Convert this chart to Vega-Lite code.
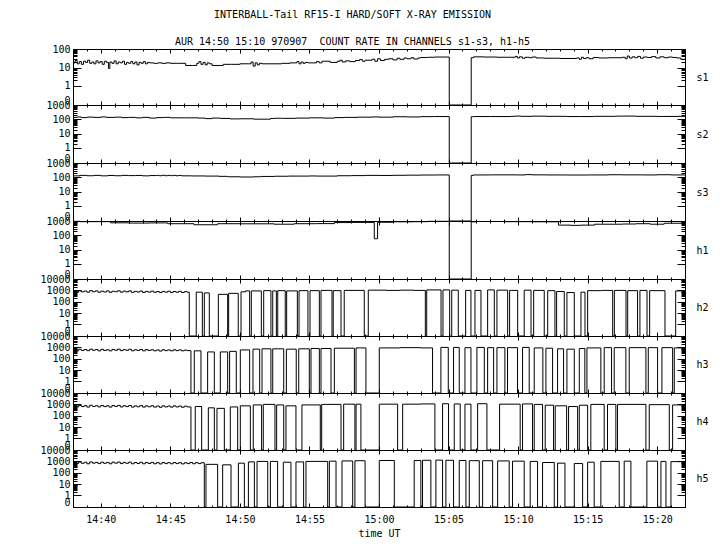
{
"$schema":"https://vega.github.io/schema/vega-lite/v6.json",
"background":"white",
"padding":{"left":32,"top":9,"right":0,"bottom":0},
"bounds":"flush",
"title":{"text":["INTERBALL-Tail RF15-I HARD/SOFT X-RAY EMISSION","AUR 14:50 15:10 970907\u00a0 COUNT RATE IN CHANNELS s1-s3, h1-h5"],"font":"DejaVu Sans Mono","fontSize":10,"fontWeight":"normal","lineHeight":27,"anchor":"middle","offset":-3,"dx":-18,"color":"black"},
"datasets":{
"s1":[{"t":38,"v":18},{"t":38.15,"v":24},{"t":38.3,"v":16},{"t":38.45,"v":21},{"t":38.6,"v":15},{"t":38.75,"v":22},{"t":38.9,"v":19},{"t":39.05,"v":25},{"t":39.2,"v":17},{"t":39.35,"v":20},{"t":39.5,"v":16},{"t":39.65,"v":23},{"t":39.8,"v":18},{"t":39.95,"v":21},{"t":40.1,"v":15},{"t":40.25,"v":22},{"t":40.4,"v":19},{"t":40.55,"v":9},{"t":40.65,"v":20},{"t":40.8,"v":17},{"t":40.95,"v":23},{"t":41.1,"v":16},{"t":41.25,"v":20},{"t":41.4,"v":18},{"t":41.55,"v":22},{"t":41.7,"v":15},{"t":41.85,"v":19},{"t":42,"v":17},{"t":42.15,"v":21},{"t":42.3,"v":16},{"t":42.45,"v":20},{"t":42.6,"v":14},{"t":42.75,"v":19},{"t":42.9,"v":17},{"t":43.05,"v":21},{"t":43.2,"v":16},{"t":43.35,"v":19},{"t":43.5,"v":18},{"t":43.8,"v":17},{"t":44.1,"v":18},{"t":44.4,"v":17},{"t":44.7,"v":18},{"t":45,"v":17},{"t":45.5,"v":17},{"t":46.1,"v":13},{"t":46.6,"v":13},{"t":46.9,"v":17},{"t":47.05,"v":21},{"t":47.2,"v":15},{"t":47.35,"v":19},{"t":47.5,"v":14},{"t":47.65,"v":18},{"t":47.8,"v":16},{"t":48,"v":13},{"t":48.5,"v":13},{"t":48.8,"v":15},{"t":49.4,"v":15},{"t":50,"v":16},{"t":50.6,"v":16},{"t":50.8,"v":20},{"t":50.95,"v":12},{"t":51.1,"v":18},{"t":51.25,"v":14},{"t":51.4,"v":17},{"t":51.6,"v":16},{"t":52.3,"v":16},{"t":53,"v":17},{"t":53.6,"v":18},{"t":54.1,"v":21},{"t":54.25,"v":16},{"t":54.4,"v":20},{"t":54.55,"v":17},{"t":54.7,"v":19},{"t":54.9,"v":18},{"t":55.5,"v":21},{"t":55.7,"v":18},{"t":55.9,"v":22},{"t":56.5,"v":19},{"t":57,"v":22},{"t":57.2,"v":25},{"t":57.35,"v":20},{"t":57.6,"v":23},{"t":57.9,"v":21},{"t":58.3,"v":24},{"t":58.6,"v":27},{"t":58.8,"v":22},{"t":59,"v":25},{"t":59.5,"v":28},{"t":59.7,"v":22},{"t":59.9,"v":30},{"t":60.1,"v":24},{"t":60.4,"v":28},{"t":60.7,"v":30},{"t":61,"v":26},{"t":61.3,"v":32},{"t":61.5,"v":28},{"t":61.8,"v":33},{"t":62,"v":30},{"t":62.3,"v":34},{"t":62.5,"v":29},{"t":62.8,"v":33},{"t":63,"v":35},{"t":63.5,"v":36},{"t":64,"v":37},{"t":65.05,"v":0},{"t":66.63,"v":34},{"t":66.8,"v":38},{"t":67.5,"v":37},{"t":68.5,"v":36},{"t":69.5,"v":36},{"t":69.8,"v":40},{"t":69.95,"v":33},{"t":70.1,"v":38},{"t":70.3,"v":32},{"t":70.5,"v":36},{"t":70.8,"v":34},{"t":71,"v":37},{"t":71.3,"v":33},{"t":71.9,"v":32},{"t":73,"v":31},{"t":74.2,"v":33},{"t":74.4,"v":28},{"t":74.55,"v":36},{"t":74.7,"v":31},{"t":74.9,"v":34},{"t":75.1,"v":30},{"t":75.4,"v":35},{"t":75.8,"v":33},{"t":76.5,"v":34},{"t":77.5,"v":36},{"t":77.7,"v":30},{"t":77.85,"v":42},{"t":78,"v":33},{"t":78.2,"v":38},{"t":78.4,"v":34},{"t":78.6,"v":40},{"t":78.8,"v":32},{"t":79,"v":37},{"t":79.3,"v":35},{"t":79.6,"v":39},{"t":79.9,"v":33},{"t":80.2,"v":38},{"t":80.5,"v":34},{"t":80.8,"v":37},{"t":81.1,"v":35},{"t":81.4,"v":33},{"t":81.7,"v":28},{"t":82,"v":28}],
"s2":[{"t":38,"v":140},{"t":38.3,"v":150},{"t":38.6,"v":135},{"t":39,"v":145},{"t":39.5,"v":140},{"t":40,"v":150},{"t":40.4,"v":140},{"t":41,"v":145},{"t":41.5,"v":135},{"t":42,"v":140},{"t":42.5,"v":130},{"t":43,"v":140},{"t":43.5,"v":125},{"t":44,"v":135},{"t":44.5,"v":140},{"t":45,"v":130},{"t":46,"v":130},{"t":47,"v":125},{"t":47.5,"v":115},{"t":48,"v":125},{"t":48.6,"v":118},{"t":49.3,"v":110},{"t":50,"v":112},{"t":51,"v":105},{"t":52.2,"v":118},{"t":52.5,"v":122},{"t":53,"v":120},{"t":54,"v":125},{"t":55,"v":130},{"t":56,"v":125},{"t":56.8,"v":135},{"t":57.5,"v":140},{"t":58.5,"v":145},{"t":59.5,"v":150},{"t":60,"v":145},{"t":61,"v":155},{"t":62,"v":150},{"t":63,"v":158},{"t":64,"v":160},{"t":65.05,"v":0},{"t":66.63,"v":155},{"t":66.8,"v":160},{"t":68,"v":160},{"t":69.5,"v":165},{"t":69.8,"v":172},{"t":70.2,"v":165},{"t":71,"v":170},{"t":72,"v":165},{"t":73.5,"v":160},{"t":74.5,"v":160},{"t":75.5,"v":165},{"t":77,"v":170},{"t":77.5,"v":172},{"t":78.5,"v":165},{"t":80,"v":162},{"t":81.5,"v":165},{"t":82,"v":165}],
"s3":[{"t":38,"v":130},{"t":38.5,"v":140},{"t":39,"v":132},{"t":39.5,"v":140},{"t":40,"v":130},{"t":40.5,"v":138},{"t":41,"v":132},{"t":41.5,"v":140},{"t":42,"v":135},{"t":42.5,"v":138},{"t":43,"v":130},{"t":43.5,"v":136},{"t":44,"v":140},{"t":44.2,"v":132},{"t":44.4,"v":142},{"t":44.6,"v":133},{"t":44.8,"v":141},{"t":45,"v":134},{"t":45.2,"v":140},{"t":45.4,"v":132},{"t":45.6,"v":138},{"t":45.8,"v":130},{"t":46.5,"v":128},{"t":47.5,"v":125},{"t":48.5,"v":120},{"t":49.1,"v":112},{"t":50,"v":108},{"t":51,"v":112},{"t":51.5,"v":118},{"t":52.5,"v":122},{"t":53.5,"v":125},{"t":55,"v":128},{"t":55.5,"v":125},{"t":57,"v":132},{"t":58,"v":135},{"t":59,"v":140},{"t":60,"v":138},{"t":61,"v":142},{"t":62,"v":145},{"t":63,"v":148},{"t":64,"v":150},{"t":65.05,"v":0},{"t":66.63,"v":140},{"t":66.8,"v":150},{"t":68,"v":152},{"t":70,"v":150},{"t":70.5,"v":158},{"t":71,"v":152},{"t":72,"v":150},{"t":73.5,"v":148},{"t":75,"v":150},{"t":76.5,"v":155},{"t":77.5,"v":152},{"t":79,"v":150},{"t":80,"v":155},{"t":81,"v":150},{"t":82,"v":150}],
"h1":[{"t":38,"v":950},{"t":38.5,"v":900},{"t":40.7,"v":750},{"t":42,"v":720},{"t":43.5,"v":740},{"t":44.8,"v":650},{"t":46.7,"v":550},{"t":48.4,"v":650},{"t":50,"v":640},{"t":52.45,"v":600},{"t":53.9,"v":650},{"t":55.5,"v":660},{"t":56.8,"v":780},{"t":58,"v":800},{"t":59.66,"v":60},{"t":59.9,"v":820},{"t":61,"v":880},{"t":62.5,"v":900},{"t":63.5,"v":950},{"t":65.05,"v":0},{"t":66.63,"v":880},{"t":67,"v":920},{"t":69,"v":900},{"t":71,"v":880},{"t":72.9,"v":520},{"t":73.8,"v":500},{"t":74.5,"v":520},{"t":75.5,"v":600},{"t":77.5,"v":620},{"t":78.5,"v":650},{"t":79.5,"v":600},{"t":80.5,"v":700},{"t":82,"v":700}],
"h2":[{"t":38,"v":800},{"t":38.2,"v":680},{"t":38.4,"v":920},{"t":38.6,"v":740},{"t":38.8,"v":880},{"t":39,"v":700},{"t":39.2,"v":950},{"t":39.4,"v":760},{"t":39.6,"v":900},{"t":39.8,"v":690},{"t":40,"v":860},{"t":40.2,"v":720},{"t":40.4,"v":900},{"t":40.6,"v":680},{"t":40.8,"v":840},{"t":41,"v":760},{"t":41.2,"v":920},{"t":41.4,"v":700},{"t":41.6,"v":860},{"t":41.8,"v":740},{"t":42,"v":900},{"t":42.2,"v":680},{"t":42.4,"v":820},{"t":42.6,"v":720},{"t":42.8,"v":880},{"t":43,"v":660},{"t":43.2,"v":820},{"t":43.4,"v":700},{"t":43.6,"v":860},{"t":43.8,"v":680},{"t":44,"v":800},{"t":44.2,"v":650},{"t":44.4,"v":820},{"t":44.6,"v":700},{"t":44.8,"v":840},{"t":45,"v":660},{"t":45.2,"v":800},{"t":45.4,"v":690},{"t":45.6,"v":830},{"t":45.8,"v":650},{"t":46,"v":780},{"t":46.2,"v":700},{"t":46.36,"v":0},{"t":46.86,"v":700},{"t":47.3,"v":0},{"t":47.44,"v":600},{"t":47.8,"v":0},{"t":48.45,"v":450},{"t":49.12,"v":0},{"t":49.19,"v":550},{"t":49.88,"v":0},{"t":50.08,"v":750},{"t":50.4,"v":900},{"t":50.7,"v":0},{"t":50.82,"v":900},{"t":51.54,"v":0},{"t":51.71,"v":950},{"t":52.23,"v":0},{"t":52.36,"v":900},{"t":52.62,"v":0},{"t":52.72,"v":950},{"t":53.26,"v":0},{"t":53.36,"v":900},{"t":54.13,"v":0},{"t":54.25,"v":950},{"t":54.89,"v":0},{"t":55.04,"v":950},{"t":55.71,"v":0},{"t":55.83,"v":1000},{"t":56.62,"v":0},{"t":56.71,"v":950},{"t":57.27,"v":0},{"t":57.5,"v":1000},{"t":58.94,"v":0},{"t":59.23,"v":1050},{"t":60.5,"v":1000},{"t":61.5,"v":1050},{"t":62.5,"v":1000},{"t":63.33,"v":0},{"t":63.43,"v":1100},{"t":64.46,"v":0},{"t":64.6,"v":1100},{"t":65.08,"v":0},{"t":65.23,"v":1050},{"t":65.7,"v":0},{"t":66.23,"v":1000},{"t":66.61,"v":0},{"t":66.9,"v":1000},{"t":67.33,"v":0},{"t":67.81,"v":1100},{"t":68.29,"v":0},{"t":68.48,"v":1050},{"t":69.25,"v":0},{"t":69.39,"v":1000},{"t":69.97,"v":0},{"t":70.44,"v":1050},{"t":70.93,"v":0},{"t":71.12,"v":1000},{"t":71.88,"v":0},{"t":72.13,"v":950},{"t":72.65,"v":0},{"t":72.77,"v":800},{"t":73.32,"v":0},{"t":73.51,"v":650},{"t":74.04,"v":0},{"t":74.52,"v":700},{"t":74.81,"v":0},{"t":75,"v":950},{"t":76,"v":1000},{"t":76.8,"v":0},{"t":76.92,"v":1000},{"t":77.76,"v":0},{"t":77.88,"v":950},{"t":78.59,"v":0},{"t":78.76,"v":1000},{"t":79.27,"v":0},{"t":79.46,"v":950},{"t":80.56,"v":0},{"t":81.33,"v":900},{"t":82,"v":900}],
"h3":[{"t":38,"v":600},{"t":38.2,"v":500},{"t":38.4,"v":680},{"t":38.6,"v":540},{"t":38.8,"v":650},{"t":39,"v":520},{"t":39.2,"v":700},{"t":39.4,"v":560},{"t":39.6,"v":640},{"t":39.8,"v":500},{"t":40,"v":680},{"t":40.2,"v":540},{"t":40.4,"v":620},{"t":40.6,"v":500},{"t":40.8,"v":660},{"t":41,"v":560},{"t":41.2,"v":700},{"t":41.4,"v":520},{"t":41.6,"v":640},{"t":41.8,"v":560},{"t":42,"v":680},{"t":42.2,"v":500},{"t":42.4,"v":620},{"t":42.6,"v":540},{"t":42.8,"v":660},{"t":43,"v":500},{"t":43.2,"v":640},{"t":43.4,"v":540},{"t":43.6,"v":620},{"t":43.8,"v":500},{"t":44,"v":600},{"t":44.2,"v":480},{"t":44.4,"v":620},{"t":44.6,"v":520},{"t":44.8,"v":600},{"t":45,"v":500},{"t":45.2,"v":620},{"t":45.4,"v":520},{"t":45.6,"v":600},{"t":45.8,"v":500},{"t":46,"v":580},{"t":46.2,"v":520},{"t":46.48,"v":0},{"t":46.72,"v":500},{"t":47.2,"v":0},{"t":47.68,"v":400},{"t":48.16,"v":0},{"t":48.59,"v":400},{"t":49.12,"v":0},{"t":49.26,"v":450},{"t":49.74,"v":0},{"t":50.03,"v":600},{"t":50.7,"v":0},{"t":50.94,"v":700},{"t":51.42,"v":0},{"t":51.59,"v":750},{"t":52.23,"v":0},{"t":52.36,"v":750},{"t":53.15,"v":0},{"t":53.34,"v":700},{"t":54.05,"v":0},{"t":54.23,"v":750},{"t":54.99,"v":0},{"t":55.11,"v":800},{"t":55.71,"v":0},{"t":55.83,"v":800},{"t":56.55,"v":0},{"t":56.79,"v":850},{"t":58.23,"v":0},{"t":58.35,"v":900},{"t":59.06,"v":0},{"t":60.02,"v":900},{"t":61.5,"v":950},{"t":63,"v":900},{"t":63.85,"v":0},{"t":64.45,"v":1000},{"t":64.98,"v":0},{"t":65.36,"v":1000},{"t":65.77,"v":0},{"t":66.18,"v":950},{"t":66.61,"v":0},{"t":67.04,"v":1000},{"t":67.57,"v":0},{"t":67.81,"v":950},{"t":68.24,"v":0},{"t":68.48,"v":950},{"t":69.05,"v":0},{"t":69.24,"v":950},{"t":69.96,"v":0},{"t":70.32,"v":1000},{"t":70.8,"v":0},{"t":71.16,"v":900},{"t":71.78,"v":0},{"t":72,"v":850},{"t":72.48,"v":0},{"t":72.84,"v":750},{"t":73.27,"v":0},{"t":73.51,"v":700},{"t":74.04,"v":0},{"t":74.4,"v":800},{"t":74.8,"v":0},{"t":74.95,"v":900},{"t":75.95,"v":0},{"t":76.19,"v":950},{"t":76.72,"v":0},{"t":76.91,"v":950},{"t":77.75,"v":0},{"t":77.99,"v":950},{"t":79.19,"v":0},{"t":79.36,"v":950},{"t":80.03,"v":0},{"t":80.34,"v":950},{"t":81.11,"v":0},{"t":81.23,"v":900},{"t":82,"v":900}],
"h4":[{"t":38,"v":700},{"t":38.2,"v":600},{"t":38.4,"v":820},{"t":38.6,"v":640},{"t":38.8,"v":780},{"t":39,"v":580},{"t":39.2,"v":840},{"t":39.4,"v":660},{"t":39.6,"v":760},{"t":39.8,"v":600},{"t":40,"v":800},{"t":40.2,"v":640},{"t":40.4,"v":760},{"t":40.6,"v":580},{"t":40.8,"v":800},{"t":41,"v":660},{"t":41.2,"v":820},{"t":41.4,"v":600},{"t":41.6,"v":760},{"t":41.8,"v":640},{"t":42,"v":800},{"t":42.2,"v":580},{"t":42.4,"v":740},{"t":42.6,"v":620},{"t":42.8,"v":780},{"t":43,"v":580},{"t":43.2,"v":740},{"t":43.4,"v":620},{"t":43.6,"v":760},{"t":43.8,"v":580},{"t":44,"v":720},{"t":44.2,"v":560},{"t":44.4,"v":740},{"t":44.6,"v":600},{"t":44.8,"v":720},{"t":45,"v":580},{"t":45.2,"v":740},{"t":45.4,"v":600},{"t":45.6,"v":720},{"t":45.8,"v":560},{"t":46,"v":700},{"t":46.2,"v":600},{"t":46.48,"v":0},{"t":46.79,"v":650},{"t":47.25,"v":0},{"t":47.73,"v":500},{"t":48.16,"v":0},{"t":48.35,"v":450},{"t":48.88,"v":0},{"t":49.31,"v":600},{"t":49.84,"v":0},{"t":50.03,"v":750},{"t":50.75,"v":0},{"t":50.96,"v":900},{"t":51.56,"v":0},{"t":51.68,"v":1000},{"t":52.52,"v":0},{"t":52.64,"v":900},{"t":53.15,"v":0},{"t":53.31,"v":750},{"t":54.03,"v":0},{"t":54.46,"v":900},{"t":55.78,"v":0},{"t":55.88,"v":1000},{"t":57.27,"v":0},{"t":57.46,"v":1050},{"t":58.27,"v":0},{"t":58.35,"v":1050},{"t":58.7,"v":0},{"t":60.02,"v":1050},{"t":61.34,"v":0},{"t":61.7,"v":1050},{"t":63,"v":1100},{"t":64.02,"v":0},{"t":64.57,"v":1150},{"t":65,"v":0},{"t":65.41,"v":1100},{"t":65.84,"v":0},{"t":66.18,"v":1050},{"t":66.61,"v":0},{"t":67.09,"v":1150},{"t":67.76,"v":0},{"t":68.67,"v":1050},{"t":70.15,"v":0},{"t":70.32,"v":1100},{"t":71.04,"v":0},{"t":71.16,"v":1000},{"t":71.76,"v":0},{"t":71.95,"v":850},{"t":72.55,"v":0},{"t":72.67,"v":750},{"t":73.49,"v":0},{"t":73.63,"v":650},{"t":74.28,"v":0},{"t":74.4,"v":850},{"t":75,"v":0},{"t":75.23,"v":1000},{"t":76.19,"v":0},{"t":76.43,"v":1000},{"t":77.03,"v":0},{"t":77.15,"v":1000},{"t":79.19,"v":0},{"t":79.43,"v":950},{"t":80.87,"v":0},{"t":81.11,"v":900},{"t":82,"v":900}],
"h5":[{"t":38,"v":750},{"t":38.2,"v":640},{"t":38.4,"v":880},{"t":38.6,"v":680},{"t":38.8,"v":840},{"t":39,"v":620},{"t":39.2,"v":900},{"t":39.4,"v":700},{"t":39.6,"v":820},{"t":39.8,"v":640},{"t":40,"v":860},{"t":40.2,"v":680},{"t":40.4,"v":820},{"t":40.6,"v":620},{"t":40.8,"v":860},{"t":41,"v":700},{"t":41.2,"v":880},{"t":41.4,"v":640},{"t":41.6,"v":820},{"t":41.8,"v":680},{"t":42,"v":860},{"t":42.2,"v":620},{"t":42.4,"v":800},{"t":42.6,"v":660},{"t":42.8,"v":840},{"t":43,"v":620},{"t":43.2,"v":800},{"t":43.4,"v":660},{"t":43.6,"v":820},{"t":43.8,"v":620},{"t":44,"v":780},{"t":44.2,"v":600},{"t":44.4,"v":800},{"t":44.6,"v":640},{"t":44.8,"v":780},{"t":45,"v":620},{"t":45.2,"v":800},{"t":45.4,"v":640},{"t":45.6,"v":780},{"t":45.8,"v":600},{"t":46,"v":760},{"t":46.2,"v":640},{"t":46.4,"v":800},{"t":46.6,"v":620},{"t":46.8,"v":780},{"t":47,"v":640},{"t":47.2,"v":760},{"t":47.44,"v":0},{"t":47.56,"v":550},{"t":48.4,"v":0},{"t":48.76,"v":500},{"t":49.36,"v":0},{"t":49.89,"v":700},{"t":50.32,"v":0},{"t":50.61,"v":900},{"t":51.04,"v":0},{"t":51.23,"v":1000},{"t":52,"v":0},{"t":52.19,"v":1000},{"t":52.71,"v":0},{"t":53.12,"v":850},{"t":53.67,"v":0},{"t":54.03,"v":900},{"t":54.58,"v":0},{"t":54.75,"v":1000},{"t":56.31,"v":0},{"t":56.43,"v":1050},{"t":56.91,"v":0},{"t":57.34,"v":1100},{"t":58.11,"v":0},{"t":58.27,"v":1150},{"t":59,"v":0},{"t":60.02,"v":1200},{"t":61.1,"v":0},{"t":62.53,"v":1200},{"t":63.01,"v":0},{"t":63.13,"v":1250},{"t":63.73,"v":0},{"t":64.09,"v":1300},{"t":64.57,"v":0},{"t":64.81,"v":1250},{"t":65.36,"v":0},{"t":65.77,"v":1200},{"t":66.25,"v":0},{"t":66.49,"v":1150},{"t":67.21,"v":0},{"t":67.45,"v":1150},{"t":68.17,"v":0},{"t":68.53,"v":1100},{"t":69.36,"v":0},{"t":69.6,"v":1050},{"t":70.44,"v":0},{"t":70.87,"v":1000},{"t":71.4,"v":0},{"t":71.76,"v":800},{"t":72.6,"v":0},{"t":72.84,"v":700},{"t":73.37,"v":0},{"t":74.04,"v":650},{"t":74.64,"v":0},{"t":75,"v":850},{"t":75.47,"v":0},{"t":75.95,"v":1000},{"t":77.27,"v":0},{"t":77.63,"v":1050},{"t":78.11,"v":0},{"t":79.26,"v":1050},{"t":80.03,"v":0},{"t":80.27,"v":1000},{"t":80.63,"v":0},{"t":80.99,"v":950},{"t":82,"v":950}]
},
"spacing":0,
"vconcat":[
{"width":612,"height":56,"data":{"name":"s1"},"layer":[
 {"mark":{"type":"line","interpolate":"step-after","color":"black","strokeWidth":1},"encoding":{
  "x":{"field":"t","type":"quantitative","scale":{"domain":[38,82],"nice":false,"zero":false},"axis":{"orient":"bottom","values":[38,39,40,41,42,43,44,45,46,47,48,49,50,51,52,53,54,55,56,57,58,59,60,61,62,63,64,65,66,67,68,69,70,71,72,73,74,75,76,77,78,79,80,81,82],"tickSize":{"condition":{"test":"datum.value % 5 == 0","value":-4},"value":-2},"labels":false,"title":null}},
  "y":{"field":"v","type":"quantitative","scale":{"type":"symlog","constant":0.1,"domain":[0,100],"nice":false,"zero":false},"axis":{"orient":"left","values":[0,1,2,3,4,5,6,7,8,9,10,20,30,40,50,60,70,80,90,100],"tickSize":{"condition":{"test":"indexof([0,1,10,100,1000,10000], datum.value) >= 0","value":-8},"value":-4},"labelExpr":"indexof([0,1,10,100,1000,10000], datum.value) >= 0 ? '' + datum.value : ''","labelBaseline":{"condition":{"test":"datum.value == 0","value":"bottom"},"value":"middle"},"labelPadding":11,"labelOverlap":false,"labelFlush":false,"labelBound":false,"title":null,"minExtent":40,"maxExtent":40}}}},
 {"mark":{"type":"line","interpolate":"step-after","strokeOpacity":0},"encoding":{
  "x":{"field":"t","type":"quantitative","axis":{"orient":"top","values":[38,39,40,41,42,43,44,45,46,47,48,49,50,51,52,53,54,55,56,57,58,59,60,61,62,63,64,65,66,67,68,69,70,71,72,73,74,75,76,77,78,79,80,81,82],"tickSize":{"condition":{"test":"datum.value % 5 == 0","value":-4},"value":-2},"labels":false,"title":null}},
  "y":{"field":"v","type":"quantitative","axis":{"orient":"right","values":[0,1,2,3,4,5,6,7,8,9,10,20,30,40,50,60,70,80,90,100],"tickSize":{"condition":{"test":"indexof([0,1,10,100,1000,10000], datum.value) >= 0","value":-8},"value":-4},"labels":false,"title":"s1","titleAngle":0,"titleAlign":"left","titleBaseline":"middle","titleX":11,"titleY":28}}}}
],"resolve":{"axis":{"x":"independent","y":"independent"}}},
{"width":612,"height":58,"data":{"name":"s2"},"layer":[
 {"mark":{"type":"line","interpolate":"step-after","color":"black","strokeWidth":1},"encoding":{
  "x":{"field":"t","type":"quantitative","scale":{"domain":[38,82],"nice":false,"zero":false},"axis":{"orient":"bottom","values":[38,39,40,41,42,43,44,45,46,47,48,49,50,51,52,53,54,55,56,57,58,59,60,61,62,63,64,65,66,67,68,69,70,71,72,73,74,75,76,77,78,79,80,81,82],"tickSize":{"condition":{"test":"datum.value % 5 == 0","value":-4},"value":-2},"labels":false,"title":null}},
  "y":{"field":"v","type":"quantitative","scale":{"type":"symlog","constant":0.1,"domain":[0,1000],"nice":false,"zero":false},"axis":{"orient":"left","values":[0,1,2,3,4,5,6,7,8,9,10,20,30,40,50,60,70,80,90,100,200,300,400,500,600,700,800,900,1000],"tickSize":{"condition":{"test":"indexof([0,1,10,100,1000,10000], datum.value) >= 0","value":-8},"value":-4},"labelExpr":"indexof([0,1,10,100,1000,10000], datum.value) >= 0 ? '' + datum.value : ''","labelBaseline":{"condition":{"test":"datum.value == 0","value":"bottom"},"value":"middle"},"labelPadding":11,"labelOverlap":false,"labelFlush":false,"labelBound":false,"title":null,"minExtent":40,"maxExtent":40}}}},
 {"mark":{"type":"line","interpolate":"step-after","strokeOpacity":0},"encoding":{
  "x":{"field":"t","type":"quantitative","axis":{"orient":"top","values":[38,39,40,41,42,43,44,45,46,47,48,49,50,51,52,53,54,55,56,57,58,59,60,61,62,63,64,65,66,67,68,69,70,71,72,73,74,75,76,77,78,79,80,81,82],"tickSize":{"condition":{"test":"datum.value % 5 == 0","value":-4},"value":-2},"labels":false,"title":null}},
  "y":{"field":"v","type":"quantitative","axis":{"orient":"right","values":[0,1,2,3,4,5,6,7,8,9,10,20,30,40,50,60,70,80,90,100,200,300,400,500,600,700,800,900,1000],"tickSize":{"condition":{"test":"indexof([0,1,10,100,1000,10000], datum.value) >= 0","value":-8},"value":-4},"labels":false,"title":"s2","titleAngle":0,"titleAlign":"left","titleBaseline":"middle","titleX":11,"titleY":29}}}}
],"resolve":{"axis":{"x":"independent","y":"independent"}}},
{"width":612,"height":58,"data":{"name":"s3"},"layer":[
 {"mark":{"type":"line","interpolate":"step-after","color":"black","strokeWidth":1},"encoding":{
  "x":{"field":"t","type":"quantitative","scale":{"domain":[38,82],"nice":false,"zero":false},"axis":{"orient":"bottom","values":[38,39,40,41,42,43,44,45,46,47,48,49,50,51,52,53,54,55,56,57,58,59,60,61,62,63,64,65,66,67,68,69,70,71,72,73,74,75,76,77,78,79,80,81,82],"tickSize":{"condition":{"test":"datum.value % 5 == 0","value":-4},"value":-2},"labels":false,"title":null}},
  "y":{"field":"v","type":"quantitative","scale":{"type":"symlog","constant":0.1,"domain":[0,1000],"nice":false,"zero":false},"axis":{"orient":"left","values":[0,1,2,3,4,5,6,7,8,9,10,20,30,40,50,60,70,80,90,100,200,300,400,500,600,700,800,900,1000],"tickSize":{"condition":{"test":"indexof([0,1,10,100,1000,10000], datum.value) >= 0","value":-8},"value":-4},"labelExpr":"indexof([0,1,10,100,1000,10000], datum.value) >= 0 ? '' + datum.value : ''","labelBaseline":{"condition":{"test":"datum.value == 0","value":"bottom"},"value":"middle"},"labelPadding":11,"labelOverlap":false,"labelFlush":false,"labelBound":false,"title":null,"minExtent":40,"maxExtent":40}}}},
 {"mark":{"type":"line","interpolate":"step-after","strokeOpacity":0},"encoding":{
  "x":{"field":"t","type":"quantitative","axis":{"orient":"top","values":[38,39,40,41,42,43,44,45,46,47,48,49,50,51,52,53,54,55,56,57,58,59,60,61,62,63,64,65,66,67,68,69,70,71,72,73,74,75,76,77,78,79,80,81,82],"tickSize":{"condition":{"test":"datum.value % 5 == 0","value":-4},"value":-2},"labels":false,"title":null}},
  "y":{"field":"v","type":"quantitative","axis":{"orient":"right","values":[0,1,2,3,4,5,6,7,8,9,10,20,30,40,50,60,70,80,90,100,200,300,400,500,600,700,800,900,1000],"tickSize":{"condition":{"test":"indexof([0,1,10,100,1000,10000], datum.value) >= 0","value":-8},"value":-4},"labels":false,"title":"s3","titleAngle":0,"titleAlign":"left","titleBaseline":"middle","titleX":11,"titleY":29}}}}
],"resolve":{"axis":{"x":"independent","y":"independent"}}},
{"width":612,"height":58,"data":{"name":"h1"},"layer":[
 {"mark":{"type":"line","interpolate":"step-after","color":"black","strokeWidth":1},"encoding":{
  "x":{"field":"t","type":"quantitative","scale":{"domain":[38,82],"nice":false,"zero":false},"axis":{"orient":"bottom","values":[38,39,40,41,42,43,44,45,46,47,48,49,50,51,52,53,54,55,56,57,58,59,60,61,62,63,64,65,66,67,68,69,70,71,72,73,74,75,76,77,78,79,80,81,82],"tickSize":{"condition":{"test":"datum.value % 5 == 0","value":-4},"value":-2},"labels":false,"title":null}},
  "y":{"field":"v","type":"quantitative","scale":{"type":"symlog","constant":0.1,"domain":[0,1000],"nice":false,"zero":false},"axis":{"orient":"left","values":[0,1,2,3,4,5,6,7,8,9,10,20,30,40,50,60,70,80,90,100,200,300,400,500,600,700,800,900,1000],"tickSize":{"condition":{"test":"indexof([0,1,10,100,1000,10000], datum.value) >= 0","value":-8},"value":-4},"labelExpr":"indexof([0,1,10,100,1000,10000], datum.value) >= 0 ? '' + datum.value : ''","labelBaseline":{"condition":{"test":"datum.value == 0","value":"bottom"},"value":"middle"},"labelPadding":11,"labelOverlap":false,"labelFlush":false,"labelBound":false,"title":null,"minExtent":40,"maxExtent":40}}}},
 {"mark":{"type":"line","interpolate":"step-after","strokeOpacity":0},"encoding":{
  "x":{"field":"t","type":"quantitative","axis":{"orient":"top","values":[38,39,40,41,42,43,44,45,46,47,48,49,50,51,52,53,54,55,56,57,58,59,60,61,62,63,64,65,66,67,68,69,70,71,72,73,74,75,76,77,78,79,80,81,82],"tickSize":{"condition":{"test":"datum.value % 5 == 0","value":-4},"value":-2},"labels":false,"title":null}},
  "y":{"field":"v","type":"quantitative","axis":{"orient":"right","values":[0,1,2,3,4,5,6,7,8,9,10,20,30,40,50,60,70,80,90,100,200,300,400,500,600,700,800,900,1000],"tickSize":{"condition":{"test":"indexof([0,1,10,100,1000,10000], datum.value) >= 0","value":-8},"value":-4},"labels":false,"title":"h1","titleAngle":0,"titleAlign":"left","titleBaseline":"middle","titleX":11,"titleY":29}}}}
],"resolve":{"axis":{"x":"independent","y":"independent"}}},
{"width":612,"height":57,"data":{"name":"h2"},"layer":[
 {"mark":{"type":"line","interpolate":"step-after","color":"black","strokeWidth":1},"encoding":{
  "x":{"field":"t","type":"quantitative","scale":{"domain":[38,82],"nice":false,"zero":false},"axis":{"orient":"bottom","values":[38,39,40,41,42,43,44,45,46,47,48,49,50,51,52,53,54,55,56,57,58,59,60,61,62,63,64,65,66,67,68,69,70,71,72,73,74,75,76,77,78,79,80,81,82],"tickSize":{"condition":{"test":"datum.value % 5 == 0","value":-4},"value":-2},"labels":false,"title":null}},
  "y":{"field":"v","type":"quantitative","scale":{"type":"symlog","constant":0.1,"domain":[0,10000],"nice":false,"zero":false},"axis":{"orient":"left","values":[0,1,2,3,4,5,6,7,8,9,10,20,30,40,50,60,70,80,90,100,200,300,400,500,600,700,800,900,1000,2000,3000,4000,5000,6000,7000,8000,9000,10000],"tickSize":{"condition":{"test":"indexof([0,1,10,100,1000,10000], datum.value) >= 0","value":-8},"value":-4},"labelExpr":"indexof([0,1,10,100,1000,10000], datum.value) >= 0 ? '' + datum.value : ''","labelBaseline":{"condition":{"test":"datum.value == 0","value":"bottom"},"value":"middle"},"labelPadding":11,"labelOverlap":false,"labelFlush":false,"labelBound":false,"title":null,"minExtent":40,"maxExtent":40}}}},
 {"mark":{"type":"line","interpolate":"step-after","strokeOpacity":0},"encoding":{
  "x":{"field":"t","type":"quantitative","axis":{"orient":"top","values":[38,39,40,41,42,43,44,45,46,47,48,49,50,51,52,53,54,55,56,57,58,59,60,61,62,63,64,65,66,67,68,69,70,71,72,73,74,75,76,77,78,79,80,81,82],"tickSize":{"condition":{"test":"datum.value % 5 == 0","value":-4},"value":-2},"labels":false,"title":null}},
  "y":{"field":"v","type":"quantitative","axis":{"orient":"right","values":[0,1,2,3,4,5,6,7,8,9,10,20,30,40,50,60,70,80,90,100,200,300,400,500,600,700,800,900,1000,2000,3000,4000,5000,6000,7000,8000,9000,10000],"tickSize":{"condition":{"test":"indexof([0,1,10,100,1000,10000], datum.value) >= 0","value":-8},"value":-4},"labels":false,"title":"h2","titleAngle":0,"titleAlign":"left","titleBaseline":"middle","titleX":11,"titleY":28}}}}
],"resolve":{"axis":{"x":"independent","y":"independent"}}},
{"width":612,"height":57,"data":{"name":"h3"},"layer":[
 {"mark":{"type":"line","interpolate":"step-after","color":"black","strokeWidth":1},"encoding":{
  "x":{"field":"t","type":"quantitative","scale":{"domain":[38,82],"nice":false,"zero":false},"axis":{"orient":"bottom","values":[38,39,40,41,42,43,44,45,46,47,48,49,50,51,52,53,54,55,56,57,58,59,60,61,62,63,64,65,66,67,68,69,70,71,72,73,74,75,76,77,78,79,80,81,82],"tickSize":{"condition":{"test":"datum.value % 5 == 0","value":-4},"value":-2},"labels":false,"title":null}},
  "y":{"field":"v","type":"quantitative","scale":{"type":"symlog","constant":0.1,"domain":[0,10000],"nice":false,"zero":false},"axis":{"orient":"left","values":[0,1,2,3,4,5,6,7,8,9,10,20,30,40,50,60,70,80,90,100,200,300,400,500,600,700,800,900,1000,2000,3000,4000,5000,6000,7000,8000,9000,10000],"tickSize":{"condition":{"test":"indexof([0,1,10,100,1000,10000], datum.value) >= 0","value":-8},"value":-4},"labelExpr":"indexof([0,1,10,100,1000,10000], datum.value) >= 0 ? '' + datum.value : ''","labelBaseline":{"condition":{"test":"datum.value == 0","value":"bottom"},"value":"middle"},"labelPadding":11,"labelOverlap":false,"labelFlush":false,"labelBound":false,"title":null,"minExtent":40,"maxExtent":40}}}},
 {"mark":{"type":"line","interpolate":"step-after","strokeOpacity":0},"encoding":{
  "x":{"field":"t","type":"quantitative","axis":{"orient":"top","values":[38,39,40,41,42,43,44,45,46,47,48,49,50,51,52,53,54,55,56,57,58,59,60,61,62,63,64,65,66,67,68,69,70,71,72,73,74,75,76,77,78,79,80,81,82],"tickSize":{"condition":{"test":"datum.value % 5 == 0","value":-4},"value":-2},"labels":false,"title":null}},
  "y":{"field":"v","type":"quantitative","axis":{"orient":"right","values":[0,1,2,3,4,5,6,7,8,9,10,20,30,40,50,60,70,80,90,100,200,300,400,500,600,700,800,900,1000,2000,3000,4000,5000,6000,7000,8000,9000,10000],"tickSize":{"condition":{"test":"indexof([0,1,10,100,1000,10000], datum.value) >= 0","value":-8},"value":-4},"labels":false,"title":"h3","titleAngle":0,"titleAlign":"left","titleBaseline":"middle","titleX":11,"titleY":28}}}}
],"resolve":{"axis":{"x":"independent","y":"independent"}}},
{"width":612,"height":57,"data":{"name":"h4"},"layer":[
 {"mark":{"type":"line","interpolate":"step-after","color":"black","strokeWidth":1},"encoding":{
  "x":{"field":"t","type":"quantitative","scale":{"domain":[38,82],"nice":false,"zero":false},"axis":{"orient":"bottom","values":[38,39,40,41,42,43,44,45,46,47,48,49,50,51,52,53,54,55,56,57,58,59,60,61,62,63,64,65,66,67,68,69,70,71,72,73,74,75,76,77,78,79,80,81,82],"tickSize":{"condition":{"test":"datum.value % 5 == 0","value":-4},"value":-2},"labels":false,"title":null}},
  "y":{"field":"v","type":"quantitative","scale":{"type":"symlog","constant":0.1,"domain":[0,10000],"nice":false,"zero":false},"axis":{"orient":"left","values":[0,1,2,3,4,5,6,7,8,9,10,20,30,40,50,60,70,80,90,100,200,300,400,500,600,700,800,900,1000,2000,3000,4000,5000,6000,7000,8000,9000,10000],"tickSize":{"condition":{"test":"indexof([0,1,10,100,1000,10000], datum.value) >= 0","value":-8},"value":-4},"labelExpr":"indexof([0,1,10,100,1000,10000], datum.value) >= 0 ? '' + datum.value : ''","labelBaseline":{"condition":{"test":"datum.value == 0","value":"bottom"},"value":"middle"},"labelPadding":11,"labelOverlap":false,"labelFlush":false,"labelBound":false,"title":null,"minExtent":40,"maxExtent":40}}}},
 {"mark":{"type":"line","interpolate":"step-after","strokeOpacity":0},"encoding":{
  "x":{"field":"t","type":"quantitative","axis":{"orient":"top","values":[38,39,40,41,42,43,44,45,46,47,48,49,50,51,52,53,54,55,56,57,58,59,60,61,62,63,64,65,66,67,68,69,70,71,72,73,74,75,76,77,78,79,80,81,82],"tickSize":{"condition":{"test":"datum.value % 5 == 0","value":-4},"value":-2},"labels":false,"title":null}},
  "y":{"field":"v","type":"quantitative","axis":{"orient":"right","values":[0,1,2,3,4,5,6,7,8,9,10,20,30,40,50,60,70,80,90,100,200,300,400,500,600,700,800,900,1000,2000,3000,4000,5000,6000,7000,8000,9000,10000],"tickSize":{"condition":{"test":"indexof([0,1,10,100,1000,10000], datum.value) >= 0","value":-8},"value":-4},"labels":false,"title":"h4","titleAngle":0,"titleAlign":"left","titleBaseline":"middle","titleX":11,"titleY":28}}}}
],"resolve":{"axis":{"x":"independent","y":"independent"}}},
{"width":612,"height":57,"data":{"name":"h5"},"layer":[
 {"mark":{"type":"line","interpolate":"step-after","color":"black","strokeWidth":1},"encoding":{
  "x":{"field":"t","type":"quantitative","scale":{"domain":[38,82],"nice":false,"zero":false},"axis":{"orient":"bottom","values":[38,39,40,41,42,43,44,45,46,47,48,49,50,51,52,53,54,55,56,57,58,59,60,61,62,63,64,65,66,67,68,69,70,71,72,73,74,75,76,77,78,79,80,81,82],"tickSize":{"condition":{"test":"datum.value % 5 == 0","value":-4},"value":-2},"labelExpr":"datum.value % 5 == 0 ? (14 + floor(datum.value/60)) + ':' + (datum.value % 60 < 10 ? '0' : '') + (datum.value % 60) : ''","labelPadding":11,"labelOverlap":false,"labelFlush":false,"labelBound":false,"title":"time UT","titlePadding":2}},
  "y":{"field":"v","type":"quantitative","scale":{"type":"symlog","constant":0.1,"domain":[0,10000],"nice":false,"zero":false},"axis":{"orient":"left","values":[0,1,2,3,4,5,6,7,8,9,10,20,30,40,50,60,70,80,90,100,200,300,400,500,600,700,800,900,1000,2000,3000,4000,5000,6000,7000,8000,9000,10000],"tickSize":{"condition":{"test":"indexof([0,1,10,100,1000,10000], datum.value) >= 0","value":-8},"value":-4},"labelExpr":"indexof([0,1,10,100,1000,10000], datum.value) >= 0 ? '' + datum.value : ''","labelBaseline":{"condition":{"test":"datum.value == 0","value":"bottom"},"value":"middle"},"labelPadding":11,"labelOverlap":false,"labelFlush":false,"labelBound":false,"title":null,"minExtent":40,"maxExtent":40}}}},
 {"mark":{"type":"line","interpolate":"step-after","strokeOpacity":0},"encoding":{
  "x":{"field":"t","type":"quantitative","axis":{"orient":"top","values":[38,39,40,41,42,43,44,45,46,47,48,49,50,51,52,53,54,55,56,57,58,59,60,61,62,63,64,65,66,67,68,69,70,71,72,73,74,75,76,77,78,79,80,81,82],"tickSize":{"condition":{"test":"datum.value % 5 == 0","value":-4},"value":-2},"labels":false,"title":null}},
  "y":{"field":"v","type":"quantitative","axis":{"orient":"right","values":[0,1,2,3,4,5,6,7,8,9,10,20,30,40,50,60,70,80,90,100,200,300,400,500,600,700,800,900,1000,2000,3000,4000,5000,6000,7000,8000,9000,10000],"tickSize":{"condition":{"test":"indexof([0,1,10,100,1000,10000], datum.value) >= 0","value":-8},"value":-4},"labels":false,"title":"h5","titleAngle":0,"titleAlign":"left","titleBaseline":"middle","titleX":11,"titleY":28}}}}
],"resolve":{"axis":{"x":"independent","y":"independent"}}}
],
"config":{
 "view":{"stroke":"black","strokeWidth":1},
 "font":"DejaVu Sans Mono",
 "axis":{"domain":false,"grid":false,"tickColor":"black","tickWidth":1,"labelColor":"black","labelFont":"DejaVu Sans Mono","labelFontSize":10,"titleFont":"DejaVu Sans Mono","titleFontSize":10,"titleFontWeight":"normal","titleColor":"black"}
}
}
